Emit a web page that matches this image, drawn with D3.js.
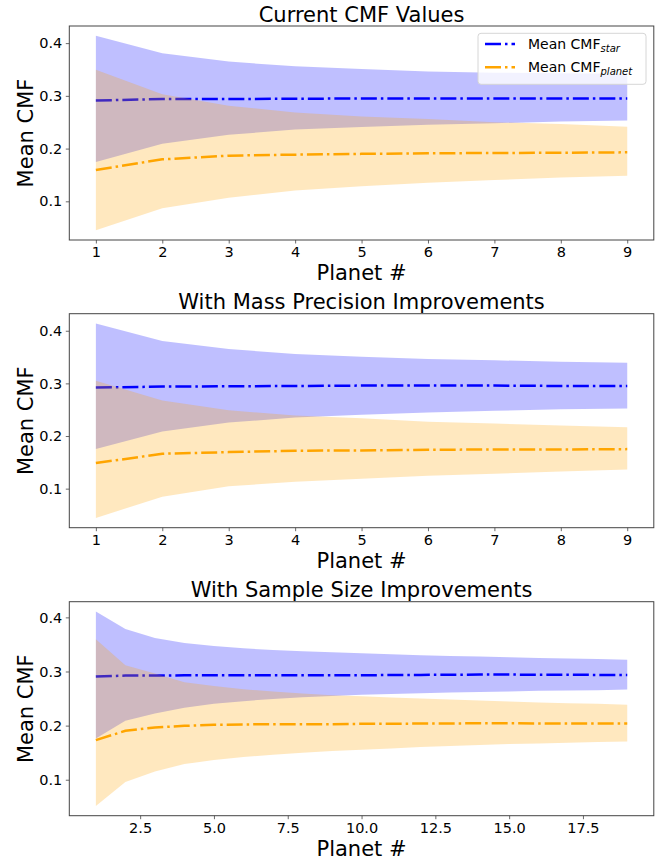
<!DOCTYPE html>
<html>
<head>
<meta charset="utf-8">
<script src="https://cdn.jsdelivr.net/npm/d3@7"></script>
<style>
    body { margin: 0; background: #fff; }
    text { font-family: "DejaVu Sans", sans-serif; fill: #000; }
</style>
</head>
<body>
<svg id="chart" width="664" height="859"></svg>
<script>
// panel 1 & 2 use planets 1..9, panel 3 uses 1..19
const planets9 = [1, 2, 3, 4, 5, 6, 7, 8, 9];
const planets19 = d3.range(1, 20);

const titles = [
    "Current CMF Values",
    "With Mass Precision Improvements",
    "With Sample Size Improvements"
];

// Current CMF values
const cur_starMean = [0.291, 0.294, 0.294, 0.2945, 0.295, 0.295, 0.295, 0.295, 0.295];
const cur_starLow = [0.1746, 0.209, 0.226, 0.236, 0.241, 0.245, 0.248, 0.2515, 0.2534];
const cur_starHigh = [0.414, 0.381, 0.365, 0.356, 0.351, 0.346, 0.344, 0.343, 0.342];
const cur_planetMean = [0.1594, 0.1796, 0.1866, 0.1885, 0.19, 0.191, 0.1917, 0.192, 0.1929];
const cur_planetLow = [0.0451, 0.0867, 0.107, 0.1203, 0.1284, 0.1354, 0.1405, 0.145, 0.1487];
const cur_planetHigh = [0.3494, 0.303, 0.281, 0.2686, 0.261, 0.256, 0.25, 0.2466, 0.2415];

// with mass precision improvements
const mass_starMean = [0.292, 0.2939, 0.2945, 0.2951, 0.2958, 0.2958, 0.2958, 0.2951, 0.2951];
const mass_starLow = [0.1751, 0.2086, 0.2256, 0.2351, 0.2402, 0.2446, 0.2478, 0.2509, 0.2522];
const mass_starHigh = [0.4139, 0.3804, 0.3653, 0.3558, 0.3507, 0.3463, 0.3438, 0.3412, 0.3394];
const mass_planetMean = [0.1486, 0.1663, 0.1694, 0.172, 0.1726, 0.1738, 0.1745, 0.1745, 0.1751];
const mass_planetLow = [0.0443, 0.0848, 0.1044, 0.1132, 0.1189, 0.1246, 0.1284, 0.1328, 0.1366];
const mass_planetHigh = [0.3052, 0.2673, 0.249, 0.2389, 0.2339, 0.2269, 0.2238, 0.22, 0.2168];

// with sample size improvements
const size_starMean = [0.2906, 0.2924, 0.2924, 0.293, 0.293, 0.293, 0.293, 0.293, 0.293, 0.293,
    0.2935, 0.2937, 0.294, 0.2943, 0.2943, 0.2940, 0.2940, 0.2937, 0.2937];
const size_starLow = [0.1763, 0.2089, 0.2224, 0.2328, 0.2402, 0.2451, 0.2494, 0.2525, 0.2549, 0.2568,
    0.2586, 0.2599, 0.2611, 0.2623, 0.2629, 0.2642, 0.2648, 0.2654, 0.2666];
const size_starHigh = [0.411, 0.3785, 0.3619, 0.3527, 0.3471, 0.3428, 0.3398, 0.3373, 0.3355, 0.3336,
    0.3318, 0.33, 0.3287, 0.3275, 0.3262, 0.325, 0.3238, 0.3232, 0.3219];
const size_planetMean = [0.1732, 0.1904, 0.1966, 0.1996, 0.2015, 0.2021, 0.2027, 0.2027, 0.2027, 0.2033,
    0.2033, 0.2039, 0.2039, 0.2045, 0.2045, 0.2039, 0.2039, 0.2039, 0.2039];
const size_planetLow = [0.0515, 0.0958, 0.1154, 0.1289, 0.1363, 0.1419, 0.1462, 0.1499, 0.1529, 0.1554,
    0.1578, 0.1603, 0.1621, 0.164, 0.1658, 0.1671, 0.1683, 0.1695, 0.1707];
const size_planetHigh = [0.3594, 0.3115, 0.2961, 0.2801, 0.2734, 0.2672, 0.2629, 0.2592, 0.2562, 0.2543,
    0.2519, 0.25, 0.2482, 0.2463, 0.2445, 0.2427, 0.2414, 0.2402, 0.2384];

const yTicks = [0.1, 0.2, 0.3, 0.4];
const xTicks9 = [1, 2, 3, 4, 5, 6, 7, 8, 9];
const xTicks19 = [2.5, 5.0, 7.5, 10.0, 12.5, 15.0, 17.5];

const panels = [
    { title: titles[0], x: planets9, xTicks: xTicks9, fmt: d3.format("d"),
      star: [cur_starMean, cur_starLow, cur_starHigh], planet: [cur_planetMean, cur_planetLow, cur_planetHigh] },
    { title: titles[1], x: planets9, xTicks: xTicks9, fmt: d3.format("d"),
      star: [mass_starMean, mass_starLow, mass_starHigh], planet: [mass_planetMean, mass_planetLow, mass_planetHigh] },
    { title: titles[2], x: planets19, xTicks: xTicks19, fmt: d3.format(".1f"),
      star: [size_starMean, size_starLow, size_starHigh], planet: [size_planetMean, size_planetLow, size_planetHigh] }
];

const svg = d3.select("#chart");
const left = 69.3, width = 584.5, height = 214;
const tops = [26, 313.7, 601.7];
const BLUE = "#0000ff", ORANGE = "#ffa500";

panels.forEach((p, i) => {
    const g = svg.append("g").attr("transform", `translate(${left},${tops[i]})`);

    // matplotlib-style 5% margins
    const xMin = d3.min(p.x), xMax = d3.max(p.x);
    const xPad = (xMax - xMin) * 0.05;
    const x = d3.scaleLinear().domain([xMin - xPad, xMax + xPad]).range([0, width]);

    const all = p.star[1].concat(p.star[2], p.planet[1], p.planet[2]);
    const yMin = d3.min(all), yMax = d3.max(all);
    const yPad = (yMax - yMin) * 0.05;
    const y = d3.scaleLinear().domain([yMin - yPad, yMax + yPad]).range([height, 0]);

    const band = (low, high) => d3.area()
        .x((d, k) => x(p.x[k]))
        .y0((d, k) => y(low[k]))
        .y1((d, k) => y(high[k]));

    const line = (vals) => d3.line()
        .x((d, k) => x(p.x[k]))
        .y((d, k) => y(vals[k]));

    g.append("path").attr("d", band(p.star[1], p.star[2])(p.x))
        .attr("fill", BLUE).attr("fill-opacity", 0.25);
    g.append("path").attr("d", line(p.star[0])(p.x))
        .attr("fill", "none").attr("stroke", BLUE).attr("stroke-width", 2.5)
        .attr("stroke-dasharray", "16,4,2.5,4");

    g.append("path").attr("d", band(p.planet[1], p.planet[2])(p.x))
        .attr("fill", ORANGE).attr("fill-opacity", 0.25);
    g.append("path").attr("d", line(p.planet[0])(p.x))
        .attr("fill", "none").attr("stroke", ORANGE).attr("stroke-width", 2.5)
        .attr("stroke-dasharray", "16,4,2.5,4");

    // axes
    const xAxis = g.append("g")
        .attr("transform", `translate(0,${height})`)
        .call(d3.axisBottom(x).tickValues(p.xTicks).tickFormat(p.fmt)
            .tickSizeInner(3.5).tickSizeOuter(0).tickPadding(3.5));
    const yAxis = g.append("g")
        .call(d3.axisLeft(y).tickValues(yTicks).tickFormat(d3.format(".1f"))
            .tickSizeInner(3.5).tickSizeOuter(0).tickPadding(3.5));

    [xAxis, yAxis].forEach(a => {
        a.select(".domain").remove();
        a.selectAll(".tick line").attr("stroke", "#444").attr("stroke-width", 0.8);
        a.selectAll(".tick text")
            .style("font-family", "DejaVu Sans, sans-serif")
            .style("font-size", "14.5px")
            .attr("fill", "#000");
    });

    g.append("rect")
        .attr("width", width).attr("height", height)
        .attr("fill", "none").attr("stroke", "#444").attr("stroke-width", 1);

    g.append("text")
        .attr("x", width / 2).attr("y", -4.5)
        .attr("text-anchor", "middle")
        .style("font-size", "21px")
        .text(p.title);

    g.append("text")
        .attr("x", width / 2).attr("y", height + 40)
        .attr("text-anchor", "middle")
        .style("font-size", "21px")
        .text("Planet #");

    g.append("text")
        .attr("transform", `translate(${33 - left},${height / 2}) rotate(-90)`)
        .attr("text-anchor", "middle")
        .style("font-size", "21px")
        .text("Mean CMF");

    // legend only on the first panel
    if (i === 0) {
        const lg = g.append("g").attr("transform", `translate(${478 - left},${33.3 - tops[0]})`);
        lg.append("rect")
            .attr("width", 168).attr("height", 51).attr("rx", 3)
            .attr("fill", "#fff").attr("fill-opacity", 0.8)
            .attr("stroke", "#d6d6d6").attr("stroke-width", 1);

        const items = [
            { color: BLUE, sub: "star" },
            { color: ORANGE, sub: "planet" }
        ];
        items.forEach((it, k) => {
            const cy = 10.7 + k * 23.3;
            lg.append("line")
                .attr("x1", 7).attr("x2", 37).attr("y1", cy).attr("y2", cy)
                .attr("stroke", it.color).attr("stroke-width", 2.5)
                .attr("stroke-dasharray", "16,4,2.5,4");
            const t = lg.append("text")
                .attr("x", 50).attr("y", cy + 5)
                .style("font-size", "14px");
            t.append("tspan").text("Mean CMF");
            t.append("tspan")
                .attr("dy", 3)
                .style("font-size", "10px")
                .style("font-style", "italic")
                .text(it.sub);
        });
    }
});
</script>
</body>
</html>
